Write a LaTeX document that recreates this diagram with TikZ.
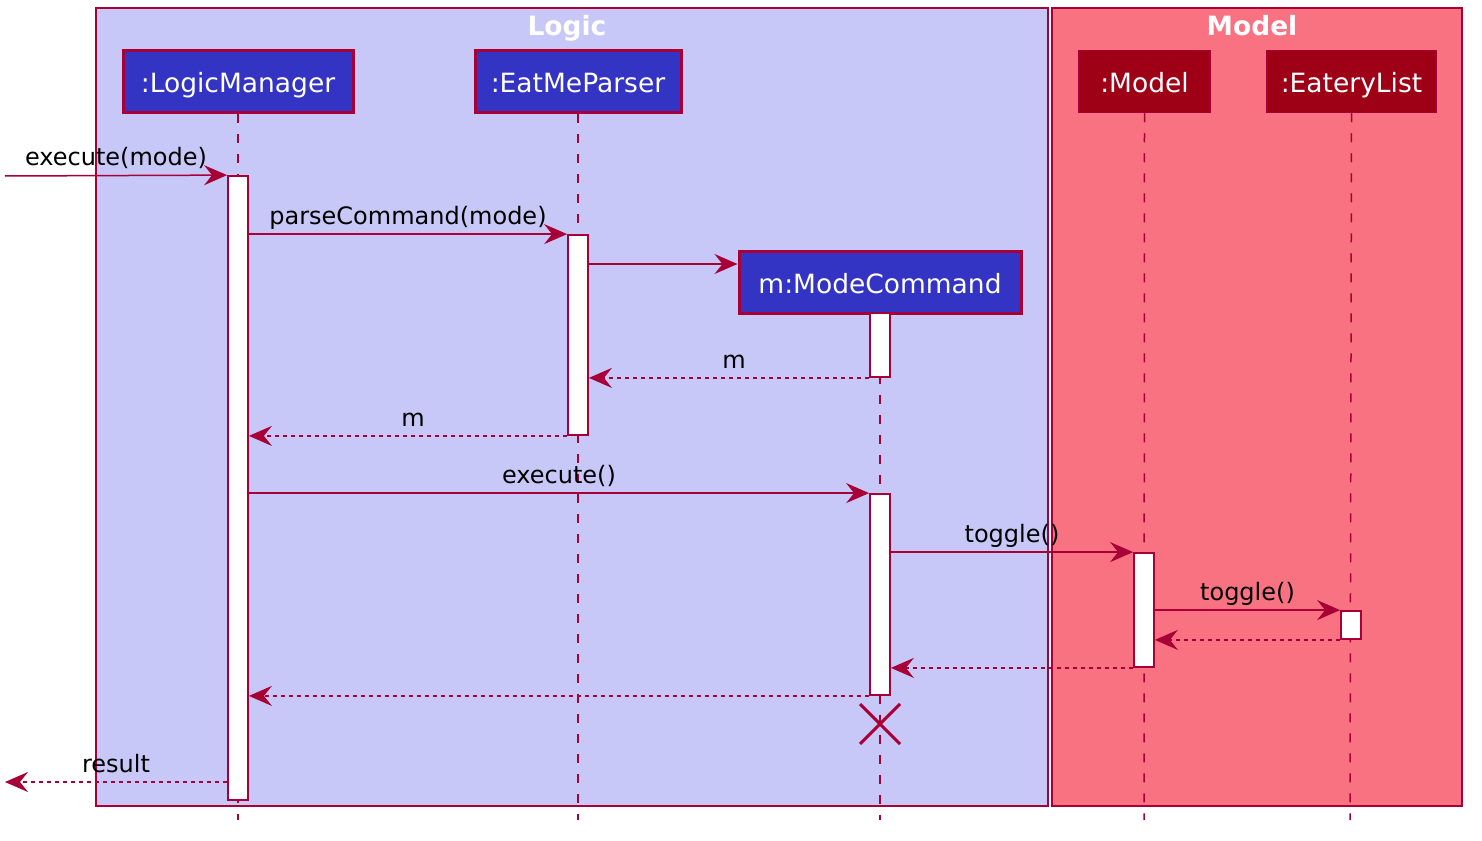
\documentclass[tikz,border=0pt]{standalone}
\usepackage{fontspec}
\setmainfont{DejaVu Sans}
\usetikzlibrary{arrows.meta}
\definecolor{crim}{HTML}{A80036}
\definecolor{logicbg}{HTML}{C8C8F8}
\definecolor{modelbg}{HTML}{F97282}
\definecolor{partblue}{HTML}{3434C4}
\definecolor{partred}{HTML}{9E0016}
\tikzset{
  grp/.style={draw=crim, line width=1.5pt},
  grptitle/.style={text=white, font=\fontsize{26.5}{30}\selectfont\bfseries, inner sep=0pt, text height=20pt, text depth=0pt},
  partb/.style={draw=crim, fill=partblue, line width=3pt, text=white, minimum height=62pt, inner sep=0pt, text height=22.4pt, text depth=0pt, font=\fontsize{26.5}{30}\selectfont},
  partr/.style={draw=crim, fill=partred, line width=1.5pt, text=white, minimum height=62pt, inner sep=0pt, text height=22.4pt, text depth=0pt, font=\fontsize{26.5}{30}\selectfont},
  act/.style={draw=crim, fill=white, line width=1.8pt, minimum width=20pt, inner sep=0pt},
  life/.style={draw=crim, line width=1.5pt, dash pattern=on 9pt off 11pt},
  msg/.style={draw=crim, line width=1.5pt, -{Stealth[length=23pt,width=20pt,inset=8pt]}},
  ret/.style={msg, dash pattern=on 4pt off 4pt},
  lbl/.style={above, inner sep=0pt, text depth=0pt, yshift=9pt, text=black, font=\fontsize{24}{28}\selectfont},
  killx/.style={draw=crim, line width=3pt}
}
\begin{document}
\begin{tikzpicture}[x=1pt,y=-1pt]
\useasboundingbox (0,0) rectangle (1482,840);
% groups
\draw[grp, fill=logicbg] (96,8) rectangle (1048,806);
\draw[grp, fill=modelbg] (1052,8) rectangle (1462,806);
\node[grptitle] (tlogic) at (567,26) {Logic};
\node[grptitle] (tmodel) at (1252,26) {Model};
% participants
\node[partb, minimum width=230pt] (lm) at (238,81.5) {:LogicManager};
\node[partb, minimum width=206pt] (ep) at (578,81.5) {:EatMeParser};
\node[partb, minimum width=282pt] (mc) at (880,282) {m:ModeCommand};
\node[partr, minimum width=131pt] (mo) at (1144.5,81.5) {:Model};
\node[partr, minimum width=169pt] (el) at (1351.5,81.5) {:EateryList};
% lifelines
\coordinate (lmend) at (238,820);
\coordinate (epend) at (578,820);
\coordinate (mcend) at (880,820);
\coordinate (moend) at (1144,820);
\coordinate (elend) at (1350,820);
\draw[life] (lm.south) -- (lmend);
\draw[life] (ep.south) -- (epend);
\draw[life] (mc.south) -- (mcend);
\draw[life] (mo.south) -- (moend);
\draw[life] (el.south) -- (elend);
% activations
\node[act, minimum height=624pt] (lm1) at (238,488) {};
\node[act, minimum height=200pt] (ep1) at (578,335) {};
\node[act, minimum height=64pt] (mc1) at (880,345) {};
\node[act, minimum height=201pt] (mc2) at (880,594.5) {};
\node[act, minimum height=114pt] (mo1) at (1144,610) {};
\node[act, minimum height=28pt] (el1) at (1351,625) {};
% messages
\coordinate (in1) at (5,176);
\coordinate (out1) at (5,782);
\draw[msg] (in1) -- node[lbl] {execute(mode)} (lm1.north west);
\draw[msg] (lm1.east |- ep1.north) -- node[lbl] {parseCommand(mode)} (ep1.north west);
\draw[msg] (ep1.east |- 0,264) -- (mc.west |- 0,264);
\draw[ret] (mc1.south west) -- node[lbl, xshift=5pt] {m} (ep1.east |- mc1.south);
\draw[ret] (ep1.south west) -- node[lbl, xshift=5pt] {m} (lm1.east |- ep1.south);
\draw[msg] (lm1.east |- mc2.north) -- node[lbl] {execute()} (mc2.north west);
\draw[msg] (mc2.east |- mo1.north) -- node[lbl] {toggle()} (mo1.north west);
\draw[msg] (mo1.east |- el1.north) -- node[lbl] {toggle()} (el1.north west);
\draw[ret] (el1.south west) -- (mo1.east |- el1.south);
\draw[ret] (mo1.south west) -- (mc2.east |- mo1.south);
\draw[ret] (mc2.south west) -- (lm1.east |- mc2.south);
\draw[ret] (lm1.west |- out1) -- node[lbl] {result} (out1);
% destroy
\draw[killx] (860,704) -- (900,744) (860,744) -- (900,704);
\end{tikzpicture}
\end{document}
